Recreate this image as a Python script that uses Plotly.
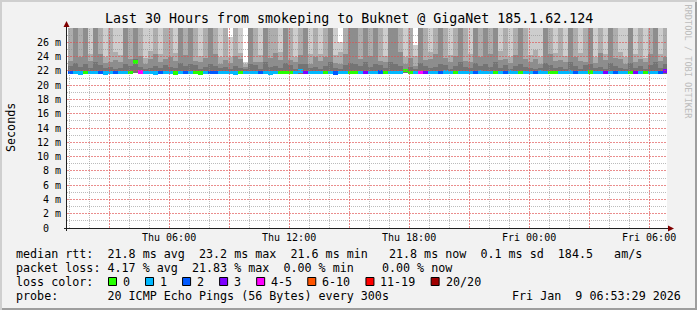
import math
import pandas as pd
import plotly.graph_objects as go

# ---------------- data ----------------
title_text = "Last 30 Hours from smokeping to Buknet @ GigaNet 185.1.62.124"
range_start = pd.Timestamp("2026-01-08 00:53:29")
range_end = pd.Timestamp("2026-01-09 06:53:29")
bucket_start = pd.Timestamp("2026-01-08 00:55:00")
bucket_minutes = 15

median_ms = [
    21.8, 21.8, 21.7, 21.8, 21.8, 21.8, 21.8, 21.7, 21.8, 21.8,
    21.8, 21.8, 21.8, 23.3, 21.9, 21.8, 21.8, 21.7, 21.8, 21.8,
    21.8, 21.7, 21.8, 21.8, 21.8, 21.8, 21.7, 21.8, 21.8, 21.8,
    21.8, 21.8, 21.8, 21.7, 21.8, 21.8, 21.8, 21.8, 21.8, 21.8,
    21.7, 21.8, 21.8, 21.8, 21.8, 21.8, 22.0, 21.8, 21.8, 21.8,
    21.8, 21.8, 21.8, 21.7, 21.8, 21.8, 21.8, 21.8, 21.8, 21.8,
    21.8, 21.8, 21.9, 21.8, 21.8, 21.8, 21.8, 22.1, 21.8, 21.8,
    21.8, 21.8, 21.8, 21.8, 21.8, 21.9, 21.8, 21.8, 21.8, 21.8,
    21.8, 21.8, 21.9, 21.8, 21.8, 21.8, 21.8, 21.8, 21.9, 21.8,
    21.8, 21.8, 21.8, 21.8, 21.9, 21.8, 21.8, 21.8, 21.8, 21.8,
    21.9, 21.8, 21.8, 21.8, 21.9, 21.8, 21.8, 21.8, 21.8, 21.8,
    21.8, 21.8, 21.8, 21.8, 21.8, 21.8, 21.8, 21.8, 21.8, 22.0,
]
min_ms = [
    21.6, 21.6, 21.6, 21.6, 21.7, 21.6, 21.6, 21.6, 21.6, 21.7,
    21.6, 21.6, 21.6, 21.7, 21.6, 21.6, 21.7, 21.6, 21.6, 21.6,
    21.6, 21.6, 21.6, 21.7, 21.6, 21.6, 21.6, 21.6, 21.6, 21.6,
    21.7, 21.6, 21.6, 21.6, 21.6, 21.6, 21.6, 21.7, 21.6, 21.6,
    21.6, 21.6, 21.6, 21.6, 21.6, 21.7, 21.6, 21.6, 21.6, 21.6,
    21.6, 21.6, 21.6, 21.6, 21.7, 21.6, 21.6, 21.6, 21.6, 21.6,
    21.6, 21.7, 21.6, 21.6, 21.6, 21.6, 21.6, 21.7, 21.6, 21.6,
    21.6, 21.6, 21.6, 21.6, 21.6, 21.6, 21.7, 21.6, 21.6, 21.6,
    21.6, 21.6, 21.6, 21.6, 21.7, 21.6, 21.6, 21.6, 21.6, 21.6,
    21.6, 21.6, 21.7, 21.6, 21.6, 21.6, 21.6, 21.6, 21.6, 21.7,
    21.6, 21.6, 21.6, 21.6, 21.6, 21.6, 21.7, 21.6, 21.6, 21.6,
    21.6, 21.6, 21.6, 21.7, 21.6, 21.6, 21.6, 21.6, 21.6, 21.6,
]
p60_ms = [
    22.7, 23.1, 22.6, 23.0, 22.4, 23.2, 22.8, 22.4, 22.6, 22.3,
    22.4, 23.0, 22.7, 23.6, 22.6, 22.3, 22.4, 22.7, 22.4, 22.8,
    22.6, 22.4, 23.1, 22.7, 22.9, 22.8, 22.3, 22.6, 23.0, 22.7,
    22.4, 22.6, 22.3, 22.7, 22.4, 22.2, 23.0, 22.8, 22.3, 23.2,
    22.6, 22.7, 22.4, 23.1, 22.8, 22.3, 22.9, 23.0, 22.4, 22.6,
    22.3, 22.7, 23.2, 22.4, 22.2, 22.8, 23.1, 23.0, 22.7, 23.3,
    22.6, 23.0, 22.8, 22.4, 23.2, 22.9, 22.7, 22.3, 22.6, 22.2,
    23.1, 22.7, 22.4, 22.6, 23.0, 22.8, 22.3, 22.7, 23.2, 22.6,
    22.4, 23.1, 22.7, 22.9, 22.6, 23.2, 22.4, 22.8, 22.3, 22.7,
    23.0, 22.6, 22.4, 22.3, 22.4, 23.1, 22.8, 22.4, 22.6, 22.3,
    23.2, 22.7, 22.3, 22.8, 23.0, 22.4, 22.6, 22.3, 23.1, 22.7,
    22.4, 22.3, 23.1, 22.4, 22.7, 22.3, 22.8, 23.2, 22.4, 22.9,
]
p75_ms = [
    23.4, 30.5, 24.0, 29.6, 23.4, 31.2, 24.3, 23.1, 23.3, 23.5,
    23.2, 30.1, 23.7, 31.4, 24.1, 23.0, 23.6, 24.4, 23.3, 23.6,
    23.9, 23.4, 29.8, 24.2, 30.9, 23.4, 23.2, 23.8, 31.6, 24.3,
    23.0, 23.5, 23.1, 24.1, 23.6, 22.5, 30.3, 23.3, 23.3, 29.9,
    23.8, 24.5, 23.5, 30.7, 23.5, 23.2, 24.2, 31.8, 23.0, 24.0,
    23.4, 23.9, 30.4, 23.1, 22.9, 24.3, 31.0, 29.5, 23.6, 30.8,
    24.1, 30.2, 23.4, 23.3, 31.5, 29.7, 24.6, 23.0, 23.8, 22.7,
    30.6, 23.5, 23.6, 24.3, 31.1, 23.8, 23.2, 24.1, 30.0, 23.4,
    23.3, 31.3, 23.9, 29.8, 24.4, 30.5, 23.5, 23.6, 23.1, 24.2,
    30.9, 23.7, 23.2, 23.7, 23.0, 31.7, 24.3, 23.4, 23.5, 23.2,
    30.2, 24.0, 23.4, 23.3, 31.4, 23.1, 24.5, 23.5, 29.9, 23.8,
    23.6, 23.0, 30.8, 23.3, 23.7, 23.2, 24.3, 31.0, 23.4, 23.9,
]
p90_ms = [
    31.0, 36.4, 30.2, 34.8, 24.4, 37.0, 32.4, 23.9, 30.6, 24.6,
    24.2, 35.2, 31.8, 38.0, 30.4, 23.8, 24.8, 33.1, 24.3, 31.5,
    32.0, 24.5, 35.5, 30.8, 36.8, 29.7, 24.1, 31.4, 37.3, 32.6,
    24.0, 30.7, 24.0, 31.9, 24.5, 22.9, 36.1, 30.5, 24.2, 34.6,
    31.2, 33.0, 24.7, 36.9, 30.1, 23.9, 31.6, 38.4, 24.3, 32.2,
    24.4, 31.9, 35.8, 24.2, 24.6, 32.8, 37.2, 34.9, 30.9, 36.5,
    32.4, 36.3, 30.6, 24.1, 37.8, 35.1, 33.4, 23.9, 31.3, 24.1,
    36.0, 31.1, 24.6, 32.7, 37.4, 30.8, 24.2, 31.7, 35.6, 30.4,
    24.3, 37.1, 31.6, 35.3, 32.9, 36.2, 24.8, 30.3, 24.0, 31.8,
    36.6, 31.4, 24.2, 24.9, 23.9, 37.9, 32.5, 24.5, 30.9, 24.1,
    35.4, 32.1, 24.5, 30.2, 37.0, 24.0, 33.2, 24.4, 35.0, 31.3,
    24.7, 23.9, 36.4, 24.3, 31.0, 23.8, 32.3, 37.5, 24.4, 31.6,
]
max_ms = [
    42.5, 51.0, 40.2, 47.3, 36.8, 55.1, 44.0, 33.5, 41.7, 38.2,
    35.0, 49.6, 43.1, 58.2, 39.9, 31.2, 37.4, 45.6, 34.1, 42.8,
    44.3, 37.1, 50.4, 41.0, 53.2, 40.6, 34.4, 43.9, 56.0, 45.1,
    33.8, 41.5, 26.8, 44.7, 36.0, 23.2, 52.8, 40.9, 35.2, 48.5,
    42.0, 46.2, 38.4, 54.6, 40.3, 33.0, 43.5, 57.9, 36.3, 44.8,
    37.6, 43.2, 51.7, 34.8, 26.0, 45.4, 55.3, 49.0, 41.8, 52.4,
    44.1, 50.9, 41.2, 36.5, 56.7, 48.8, 46.0, 33.9, 42.6, 25.6,
    52.0, 42.9, 37.8, 45.0, 55.8, 41.4, 35.6, 43.6, 50.2, 40.7,
    36.9, 54.0, 43.4, 49.7, 45.9, 51.6, 38.9, 41.1, 34.6, 44.0,
    53.5, 42.7, 36.1, 39.0, 33.4, 56.2, 45.2, 37.2, 42.0, 35.5,
    49.9, 44.5, 37.3, 41.3, 54.8, 34.2, 46.5, 36.7, 48.4, 43.0,
    38.1, 34.0, 52.6, 35.9, 42.2, 33.1, 45.3, 55.5, 37.0, 43.7,
]
loss_pings = [
    2, 1, 1, 0, 1, 1, 2, 1, 1, 2,
    1, 1, 0, 0, 4, 1, 1, 1, 2, 1,
    1, 0, 1, 2, 1, 0, 0, 1, 2, 2,
    1, 1, 1, 1, 0, 1, 1, 1, 2, 1,
    1, 1, 0, 0, 0, 1, 1, 3, 1, 1,
    1, 0, 1, 2, 1, 1, 0, 0, 1, 3,
    1, 1, 2, 0, 1, 1, 1, 0, 0, 1,
    4, 3, 1, 1, 2, 1, 1, 0, 1, 1,
    1, 2, 1, 1, 1, 0, 1, 2, 1, 1,
    0, 1, 1, 2, 1, 1, 0, 0, 1, 1,
    1, 2, 1, 1, 0, 1, 1, 3, 1, 2,
    1, 1, 0, 3, 1, 0, 1, 1, 2, 3,
]

loss_labels = ["0", "1", "2", "3", "4-5", "6-10", "11-19", "20/20"]
loss_upper = [0, 1, 2, 3, 5, 10, 19, 20]
loss_colors = ["#26ff00", "#00b8ff", "#0059ff", "#7e00ff",
               "#ff00fe", "#ff5500", "#ff0000", "#a00000"]

y_tick_values = [0, 2, 4, 6, 8, 10, 12, 14, 16, 18, 20, 22, 24, 26]
x_label_times = ["2026-01-08 06:00", "2026-01-08 12:00", "2026-01-08 18:00",
                 "2026-01-09 00:00", "2026-01-09 06:00"]
x_label_text = ["Thu 06:00", "Thu 12:00", "Thu 18:00", "Fri 00:00", "Fri 06:00"]

stat_line_rtt = "median rtt:  21.8 ms avg  23.2 ms max  21.6 ms min   21.8 ms now  0.1 ms sd  184.5   am/s"
stat_line_loss = "packet loss: 4.17 % avg  21.83 % max  0.00 % min    0.00 % now"
probe_line = "probe:       20 ICMP Echo Pings (56 Bytes) every 300s"
stamp_text = "Fri Jan  9 06:53:29 2026"
watermark_text = "RRDTOOL / TOBI OETIKER"

# ---------------- layout helpers ----------------
W, H = 697, 310
PL, PR, PT, PB = 67, 30, 28, 82
PW, PH = W - PL - PR, H - PT - PB
Y_MAX = 28
MONO = "DejaVu Sans Mono"


def px_x(px):
    return (px - PL) / PW


def px_y(py):
    return (PT + PH - py) / PH


def nb(s):
    return s.replace(" ", "\u00a0")


n = len(median_ms)
times = pd.date_range(bucket_start, periods=n, freq=f"{bucket_minutes}min") + pd.Timedelta(minutes=bucket_minutes / 2)
bucket_ms = bucket_minutes * 60 * 1000


def loss_color(l):
    for up, c in zip(loss_upper, loss_colors):
        if l <= up:
            return c
    return loss_colors[-1]


fig = go.Figure()

bands = [
    (min_ms, p60_ms, "#747474"),
    (p60_ms, p75_ms, "#8d8d8d"),
    (p75_ms, p90_ms, "#adadad"),
    (p90_ms, max_ms, "#cdcdcd"),
]
for lo, hi, col in bands:
    fig.add_trace(go.Bar(
        x=times, base=lo, y=[h - l for l, h in zip(lo, hi)],
        width=bucket_ms, marker=dict(color=col, line=dict(width=0)),
        hoverinfo="skip", showlegend=False,
    ))

fig.add_trace(go.Bar(
    x=times, base=[m - 0.27 for m in median_ms], y=[0.5] * n,
    width=bucket_ms,
    marker=dict(color=[loss_color(l) for l in loss_pings], line=dict(width=0)),
    hoverinfo="skip", showlegend=False,
))

# ---------------- grid as scatter traces (drawn above the bars) ----------------
span = range_end - range_start
hours = pd.date_range("2026-01-08 01:00", "2026-01-09 06:00", freq="1h")
minor_x, minor_y, major_x, major_y = [], [], [], []
for t in hours:
    px = PL + (t - range_start) / span * PW
    ts = range_start + span * ((math.floor(px) + 0.5 - PL) / PW)
    if t.hour % 3 == 0:
        major_x += [ts, ts, None]
        major_y += [0, Y_MAX, None]
    else:
        minor_x += [ts, ts, None]
        minor_y += [0, Y_MAX, None]
for v in range(1, Y_MAX):
    py = PT + PH - v / Y_MAX * PH
    vs = (PT + PH - (math.floor(py) + 0.5)) / PH * Y_MAX
    if v % 2 == 0:
        major_x += [range_start, range_end, None]
        major_y += [vs, vs, None]
    else:
        minor_x += [range_start, range_end, None]
        minor_y += [vs, vs, None]

fig.add_trace(go.Scatter(x=minor_x, y=minor_y, mode="lines",
                         line=dict(color="rgba(143,143,143,0.6)", width=1, dash="1px,1px"),
                         hoverinfo="skip", showlegend=False))
fig.add_trace(go.Scatter(x=major_x, y=major_y, mode="lines",
                         line=dict(color="rgba(222,80,80,0.65)", width=1, dash="2px,1px"),
                         hoverinfo="skip", showlegend=False))

shapes = []
# background frame shading
shapes.append(dict(type="rect", xref="paper", yref="paper", x0=px_x(0), x1=px_x(W), y0=px_y(0), y1=px_y(2),
                   fillcolor="#cfcfcf", line=dict(width=0), layer="below"))
shapes.append(dict(type="rect", xref="paper", yref="paper", x0=px_x(0), x1=px_x(2), y0=px_y(0), y1=px_y(H),
                   fillcolor="#cfcfcf", line=dict(width=0), layer="below"))
shapes.append(dict(type="rect", xref="paper", yref="paper", x0=px_x(2), x1=px_x(W), y0=px_y(H - 2), y1=px_y(H),
                   fillcolor="#9e9e9e", line=dict(width=0), layer="below"))
shapes.append(dict(type="rect", xref="paper", yref="paper", x0=px_x(W - 2), x1=px_x(W), y0=px_y(2), y1=px_y(H),
                   fillcolor="#9e9e9e", line=dict(width=0), layer="below"))

# axes with arrows
axis_col = "#202020"
arrow_col = "#800000"
shapes.append(dict(type="line", xref="paper", yref="paper", x0=px_x(PL - 0.5), x1=px_x(PL - 0.5),
                   y0=px_y(PT + PH + 3), y1=px_y(PT - 3), line=dict(color=axis_col, width=1), layer="above"))
shapes.append(dict(type="line", xref="paper", yref="paper", x0=px_x(PL - 3), x1=px_x(PL + PW + 3),
                   y0=px_y(PT + PH + 0.5), y1=px_y(PT + PH + 0.5), line=dict(color=axis_col, width=1), layer="above"))
tip = (PL - 0.5, PT - 7)
shapes.append(dict(type="path", xref="paper", yref="paper",
                   path=f"M {px_x(tip[0])} {px_y(tip[1])} L {px_x(tip[0] - 3)} {px_y(tip[1] + 6)} L {px_x(tip[0] + 3)} {px_y(tip[1] + 6)} Z",
                   fillcolor=arrow_col, line=dict(width=0), layer="above"))
tip = (PL + PW + 7, PT + PH + 0.5)
shapes.append(dict(type="path", xref="paper", yref="paper",
                   path=f"M {px_x(tip[0])} {px_y(tip[1])} L {px_x(tip[0] - 6)} {px_y(tip[1] - 3)} L {px_x(tip[0] - 6)} {px_y(tip[1] + 3)} Z",
                   fillcolor=arrow_col, line=dict(width=0), layer="above"))

annotations = []


def add_text(text, x, y, size, xanchor="left", yanchor="middle", color="#000000", angle=0, xref="paper", yref="paper"):
    annotations.append(dict(text=nb(text), x=x, y=y, xref=xref, yref=yref, showarrow=False,
                            xanchor=xanchor, yanchor=yanchor, textangle=angle,
                            font=dict(family=MONO, size=size, color=color),
                            borderpad=0, borderwidth=0))


add_text(title_text, px_x(W / 2), px_y(18.7), 13.3, xanchor="center")
add_text("Seconds", px_x(11), px_y(128), 11.7, xanchor="center", angle=-90)
add_text(watermark_text, px_x(687.5), px_y(62), 8.6, xanchor="center", color="#bdbdbd", angle=90)

for v in y_tick_values:
    if v == 0:
        add_text("0", px_x(48.5), v, 10, xanchor="right", yref="y")
    else:
        add_text(f"{v} m", px_x(61), v, 10, xanchor="right", yref="y")
for t, s in zip(x_label_times, x_label_text):
    add_text(s, t, px_y(237), 10, xanchor="center", xref="x")

LX = 15.5
CH = 7.04
add_text(stat_line_rtt, px_x(LX), px_y(254), 11.7)
add_text(stat_line_loss, px_x(LX), px_y(268.3), 11.7)
add_text("loss color:", px_x(LX), px_y(282), 11.7)
add_text(probe_line, px_x(LX), px_y(296), 11.7)
add_text(stamp_text, px_x(681), px_y(296), 11.7, xanchor="right")

bx = 108
for lab, col in zip(loss_labels, loss_colors):
    shapes.append(dict(type="rect", xref="paper", yref="paper",
                       x0=px_x(bx + 0.5), x1=px_x(bx + 8.5), y0=px_y(277.5), y1=px_y(285.5),
                       fillcolor=col, line=dict(color="#000000", width=1), layer="above"))
    add_text(lab, px_x(bx + 15), px_y(282), 11.7)
    bx = bx + 15 + len(lab) * CH + 15

fig.update_layout(
    width=W, height=H,
    margin=dict(l=PL, r=PR, t=PT, b=PB, pad=0),
    paper_bgcolor="#f2f2f2", plot_bgcolor="#ffffff",
    barmode="overlay", bargap=0, showlegend=False, hovermode=False,
    xaxis=dict(type="date", range=[range_start, range_end], showgrid=False, zeroline=False,
               showline=False, showticklabels=False, ticks=""),
    yaxis=dict(range=[0, Y_MAX], showgrid=False, zeroline=False, showline=False,
               showticklabels=False, ticks=""),
    shapes=shapes, annotations=annotations,
    font=dict(family=MONO, color="#000000"),
)

fig.write_html("out.html")
